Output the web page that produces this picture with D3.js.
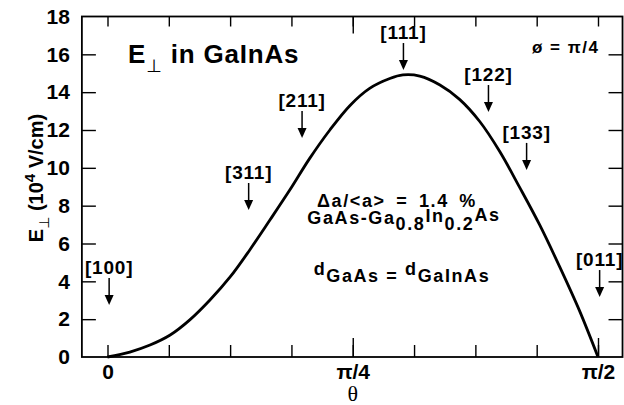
<!DOCTYPE html>
<html>
<head>
<meta charset="utf-8">
<script src="https://cdn.jsdelivr.net/npm/d3@7"></script>
<style>
  body { margin: 0; background: #fff; }
  text { font-family: "Liberation Sans", Arial, Helvetica, sans-serif; font-weight: bold; fill: #000; }
  .tack { font-family: "DejaVu Sans", sans-serif; font-weight: normal; }
</style>
</head>
<body>
<svg id="chart" width="624" height="405"></svg>
<script>
// Perpendicular field E⊥ versus polar angle θ (degrees, 0 … π/2) at ø = π/4
const thetaDeg = [0, 4.1, 7.8, 11.5, 15.1, 18.8, 22.5, 26.1, 29.8, 33.5, 37.1, 40.8, 44.5, 48.1, 51.8, 54.2, 57.3, 61.0, 64.6, 68.3, 72.0, 75.6, 79.3, 83.0, 86.6, 90];
const fieldE   = [0, 0.26, 0.63, 1.16, 1.96, 3.01, 4.23, 5.66, 7.24, 8.85, 10.5, 12.0, 13.3, 14.2, 14.72, 14.91, 14.85, 14.38, 13.62, 12.45, 10.85, 8.98, 6.98, 4.75, 2.45, 0];

// Crystal directions marked along the curve: arrow position and arrow-tip height
const directionNames = ["[100]", "[311]", "[211]", "[111]", "[122]", "[133]", "[011]"];
const directionTheta = [0.3, 25.9, 35.7, 54.3, 69.9, 76.9, 90.3];
const directionTipE  = [2.75, 7.77, 11.58, 15.17, 12.95, 9.89, 3.17];

// Axis ticks
const yTickValues = [0, 2, 4, 6, 8, 10, 12, 14, 16, 18];
const xLabelValues = [0, 45, 90];
const xLabelText = ["0", "π/4", "π/2"];
const xMinorTicks = d3.range(0, 90.01, 11.25);
const xMajorTicks = [45, 90];
const frameTheta = [-4.7, 94.5];

const svg = d3.select("#chart");
const x = d3.scaleLinear().domain([0, 90]).range([107.5, 598]);
const y = d3.scaleLinear().domain([0, 18]).range([357, 16.5]);

const frameL = x(frameTheta[0]), frameR = x(frameTheta[1]);
const frameT = y(18), frameB = y(0);

// ticks, all pointing into the frame
const tickStyle = g => {
  g.select(".domain").remove();
  g.selectAll(".tick line").attr("stroke", "#000").attr("stroke-width", 1.4);
};

svg.append("g").attr("transform", `translate(0,${frameB})`)
  .call(d3.axisBottom(x).tickValues(xMinorTicks).tickSize(-12).tickFormat(""))
  .call(tickStyle);
svg.append("g").attr("transform", `translate(0,${frameB})`)
  .call(d3.axisBottom(x).tickValues(xMajorTicks).tickSize(-19).tickFormat(""))
  .call(tickStyle);
svg.append("g").attr("transform", `translate(0,${frameT})`)
  .call(d3.axisTop(x).tickValues(xMinorTicks).tickSize(-10).tickFormat(""))
  .call(tickStyle);
svg.append("g").attr("transform", `translate(0,${frameT})`)
  .call(d3.axisTop(x).tickValues([45]).tickSize(-17).tickFormat(""))
  .call(tickStyle);

const xLabels = svg.append("g").attr("transform", `translate(0,${frameB})`)
  .call(d3.axisBottom(x).tickValues(xLabelValues).tickSize(0).tickPadding(7)
    .tickFormat((d, i) => xLabelText[i]))
  .call(tickStyle);
xLabels.selectAll("text").style("font-size", "21px").attr("fill", "#000");

const yLeft = svg.append("g").attr("transform", `translate(${frameL},0)`)
  .call(d3.axisLeft(y).tickValues(yTickValues).tickSize(-14).tickPadding(12))
  .call(tickStyle);
yLeft.selectAll("text").style("font-size", "21px").attr("fill", "#000");
yLeft.selectAll(".tick line").filter(d => d === 0 || d === 18).remove();

svg.append("g").attr("transform", `translate(${frameR},0)`)
  .call(d3.axisRight(y).tickValues(yTickValues.filter(d => d > 0 && d < 18)).tickSize(-14).tickFormat(""))
  .call(tickStyle);

// frame
svg.append("rect")
  .attr("x", frameL).attr("y", frameT)
  .attr("width", frameR - frameL).attr("height", frameB - frameT)
  .attr("fill", "none").attr("stroke", "#000").attr("stroke-width", 1.8);

// curve
const line = d3.line()
  .x((d, i) => x(thetaDeg[i]))
  .y((d, i) => y(fieldE[i]))
  .curve(d3.curveCatmullRom.alpha(0.5));
svg.append("path")
  .attr("d", line(thetaDeg))
  .attr("fill", "none").attr("stroke", "#000").attr("stroke-width", 2.8)
  .attr("stroke-linejoin", "round");

// direction markers: label with a downward arrow
const arrowLen = 27, headLen = 10, headHalf = 4.5;
const marks = svg.append("g").selectAll("g").data(directionNames).join("g")
  .attr("transform", (d, i) => `translate(${x(directionTheta[i])},${y(directionTipE[i])})`);
marks.append("line")
  .attr("x1", 0).attr("x2", 0).attr("y1", -arrowLen).attr("y2", -headLen + 1)
  .attr("stroke", "#000").attr("stroke-width", 1.5);
marks.append("path")
  .attr("d", `M0,0L${-headHalf},${-headLen}L${headHalf},${-headLen}Z`)
  .attr("fill", "#000");
marks.append("text")
  .attr("x", 0).attr("y", -arrowLen - 4)
  .attr("text-anchor", "middle")
  .style("font-size", "19px")
  .style("letter-spacing", "0.8px")
  .text(d => d);

// axis titles
svg.append("text")
  .attr("x", x(45)).attr("y", 401)
  .attr("text-anchor", "middle")
  .style("font-family", "'Liberation Serif', 'Times New Roman', serif")
  .style("font-weight", "normal")
  .style("font-size", "22px")
  .text("θ");

const yTitle = svg.append("text")
  .attr("transform", "translate(43,178) rotate(-90)")
  .attr("text-anchor", "middle")
  .style("font-size", "20px");
yTitle.append("tspan").text("E");
yTitle.append("tspan").attr("class", "tack").attr("dy", 6).style("font-size", "14px").text("⊥");
yTitle.append("tspan").attr("dy", -6).text(" (10");
yTitle.append("tspan").attr("dy", -8).style("font-size", "15px").text("4");
yTitle.append("tspan").attr("dy", 8).text(" V/cm)");

// chart title
const title = svg.append("text").attr("x", 128).attr("y", 63)
  .style("font-size", "26px").style("letter-spacing", "0.8px");
title.append("tspan").text("E");
title.append("tspan").attr("class", "tack").attr("dy", 9).style("font-size", "18px").text("⊥");
title.append("tspan").attr("dy", -9).text(" in GaInAs");

svg.append("text").attr("x", 532).attr("y", 53)
  .style("font-size", "17px").style("letter-spacing", "1.5px").text("ø = π/4");

// material annotations
const note = svg.append("g").style("font-size", "18px").style("letter-spacing", "1.6px")
  .attr("text-anchor", "middle");
note.append("text").attr("x", 397).attr("y", 207)
  .style("word-spacing", "4px")
  .text("Δa/<a> = 1.4 %");

const alloy = note.append("text").attr("x", 404).attr("y", 224);
alloy.append("tspan").text("GaAs-Ga");
alloy.append("tspan").attr("dy", 6).text("0.8");
alloy.append("tspan").attr("dy", -8).text("In");
alloy.append("tspan").attr("dy", 8).text("0.2");
alloy.append("tspan").attr("dy", -9).text("As");

const thick = note.append("text").attr("x", 402).attr("y", 282);
thick.append("tspan").attr("dy", -7).text("d");
thick.append("tspan").attr("dy", 7).text("GaAs");
thick.append("tspan").text(" = ");
thick.append("tspan").attr("dy", -7).text("d");
thick.append("tspan").attr("dy", 7).text("GaInAs");
</script>
</body>
</html>
